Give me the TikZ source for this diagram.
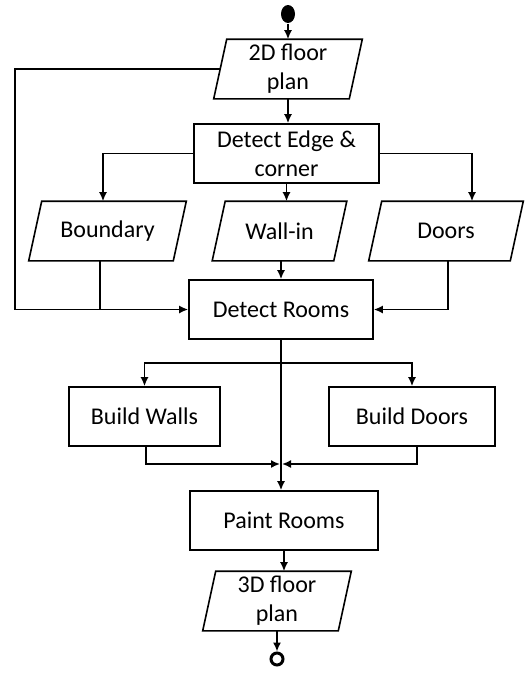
\documentclass[tikz,border=0pt]{standalone}
\usepackage{fontspec}
\setmainfont{Carlito}
\usetikzlibrary{arrows.meta, shapes.geometric}

\begin{document}
\begin{tikzpicture}[x=1pt, y=-1pt, line width=1.6pt, every node/.style={font=\fontsize{24}{29}\selectfont}, box/.style={draw, rectangle, minimum height=59pt, align=center, inner sep=2pt}, io/.style={rectangle, minimum height=58pt, align=center, inner sep=2pt}, arr/.style={-{Latex[length=9pt,width=8pt]}}]
\useasboundingbox (0,0) rectangle (530,673);

\node[fill, ellipse, minimum width=14pt, minimum height=18pt, inner sep=0pt] (start) at (288,14) {};
\node[io, minimum width=134pt] (fp2) at (288,69) {2D floor\\plan};
\node[box, minimum width=185pt] (edge) at (286.5,153.5) {Detect Edge \&\\corner};
\node[io, minimum width=143pt] (bnd) at (107.5,231) {Boundary};
\node[io, minimum width=120pt] (wall) at (279.5,231) {Wall-in};
\node[io, minimum width=140pt] (doors) at (446,231) {Doors};
\node[box, minimum width=184pt] (rooms) at (281,309.5) {Detect Rooms};
\node[box, minimum width=151pt] (bwalls) at (144.5,416.5) {Build Walls};
\node[box, minimum width=166pt] (bdoors) at (412,416.5) {Build Doors};
\node[box, minimum width=188pt] (paint) at (284,520.5) {Paint Rooms};
\node[io, minimum width=134pt] (fp3) at (277,601) {3D floor\\plan};
\node[circle, draw, line width=3pt, minimum size=12pt, inner sep=0pt] (stop) at (277,659) {};
\foreach \n in {fp2, bnd, wall, doors, fp3}
  \draw ([xshift=6.5pt]\n.north west) -- ([xshift=6.5pt]\n.north east) -- ([xshift=-6.5pt]\n.south east) -- ([xshift=-6.5pt]\n.south west) -- cycle;
\coordinate (lft) at (15,69);
\coordinate (fork) at (281,363);
\coordinate (jl) at (280,464);
\coordinate (jr) at (282,464);

\draw[arr] (start) -- (fp2);
\draw[arr] (fp2.south) -- (fp2.south |- edge.north);
\draw[arr] (fp2.west) -- (lft) |- (rooms.west);
\draw[arr] (edge.west) -| ([xshift=-4.5pt]bnd.north);
\draw[arr] (edge.east) -| ([xshift=26pt]doors.north);
\draw[arr] (edge.south) -- (edge.south |- wall.north);
\draw ([xshift=-7.5pt]bnd.south) -- ([xshift=-7.5pt]bnd.south |- rooms.west);
\draw[arr] (rooms.north |- wall.south) -- (rooms.north);
\draw[arr] ([xshift=2pt]doors.south) |- (rooms.east);
\draw[arr] (rooms.south) -- (rooms.south |- paint.north);
\draw[arr] (fork) -| (bwalls.north);
\draw[arr] (fork) -| (bdoors.north);
\draw[arr] ([xshift=1.5pt]bwalls.south) |- (jl);
\draw[arr] ([xshift=5pt]bdoors.south) |- (jr);
\draw[arr] (paint.south) -- (paint.south |- fp3.north);
\draw[arr] (fp3.south) -- (stop.north);
\end{tikzpicture}
\end{document}
